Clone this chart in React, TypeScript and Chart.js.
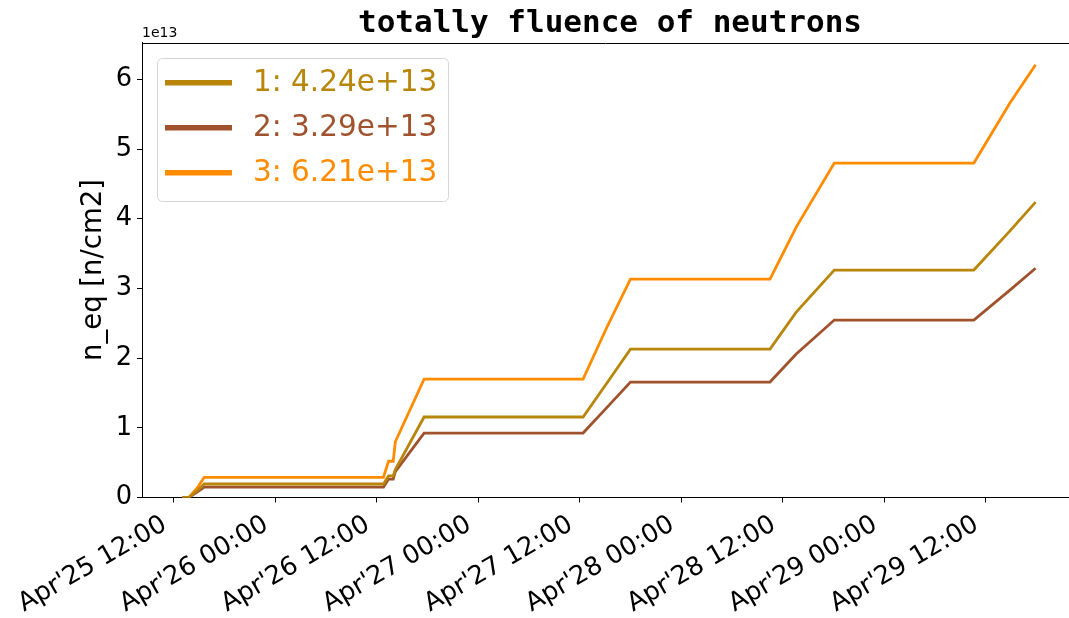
import React, { useEffect, useRef } from "react";
import { Chart, registerables } from "chart.js";

Chart.register(...registerables);

// hours since Apr 25 00:00
const hours = [13.0, 13.8, 14.8, 15.6, 36.8, 37.4, 37.95, 38.2, 41.6, 60.4, 63.2, 66.0, 82.5, 85.6, 90.1, 106.6, 110.9, 113.9];
// fluence in units of 1e13 n/cm2
const series1 = [0, 0, 0.10, 0.194, 0.194, 0.31, 0.31, 0.40, 1.155, 1.155, 1.64, 2.13, 2.13, 2.66, 3.264, 3.264, 3.83, 4.24];
const series2 = [0, 0, 0.08, 0.15, 0.15, 0.265, 0.265, 0.37, 0.925, 0.925, 1.29, 1.657, 1.657, 2.06, 2.547, 2.547, 2.98, 3.29];
const series3 = [0, 0, 0.14, 0.29, 0.29, 0.52, 0.52, 0.80, 1.70, 1.70, 2.44, 3.135, 3.135, 3.88, 4.80, 4.80, 5.67, 6.21];
const seriesNames = ["1", "2", "3"];
const seriesColors = ["#B8860B", "#A0522D", "#FF8C00"];
const xTicks = [12, 24, 36, 48, 60, 72, 84, 96, 108];
const yTicks = [0, 1, 2, 3, 4, 5, 6];
const titleText = "totally fluence of neutrons";
const yLabel = "n_eq [n/cm2]";
const offsetText = "1e13";

function fmtHour(h: number): string {
  const day = 25 + Math.floor(h / 24);
  const hh = Math.round(h % 24);
  return `Apr'${day} ${String(hh).padStart(2, "0")}:00`;
}

const decorPlugin = {
  id: "decor",
  afterDraw(chart: any) {
    const { ctx, chartArea } = chart;
    ctx.save();
    // top spine
    ctx.strokeStyle = "#000";
    ctx.lineWidth = 1;
    ctx.beginPath();
    ctx.moveTo(chartArea.left, Math.round(chartArea.top) + 0.5);
    ctx.lineTo(chartArea.right, Math.round(chartArea.top) + 0.5);
    ctx.stroke();
    // title
    ctx.fillStyle = "#000";
    ctx.font = 'bold 31px "DejaVu Sans Mono"';
    ctx.textAlign = "center";
    ctx.textBaseline = "alphabetic";
    ctx.fillText(titleText, 610, 32);
    // offset text
    ctx.font = '14px "DejaVu Sans"';
    ctx.textAlign = "left";
    ctx.fillText(offsetText, 142, 37);
    // legend
    const lx = 157.5, ly = 58.5, lw = 291, lh = 143, r = 5;
    ctx.beginPath();
    ctx.moveTo(lx + r, ly);
    ctx.lineTo(lx + lw - r, ly);
    ctx.arcTo(lx + lw, ly, lx + lw, ly + r, r);
    ctx.lineTo(lx + lw, ly + lh - r);
    ctx.arcTo(lx + lw, ly + lh, lx + lw - r, ly + lh, r);
    ctx.lineTo(lx + r, ly + lh);
    ctx.arcTo(lx, ly + lh, lx, ly + lh - r, r);
    ctx.lineTo(lx, ly + r);
    ctx.arcTo(lx, ly, lx + r, ly, r);
    ctx.closePath();
    ctx.fillStyle = "rgba(255,255,255,0.8)";
    ctx.fill();
    ctx.strokeStyle = "rgba(204,204,204,0.8)";
    ctx.lineWidth = 1;
    ctx.stroke();
    ctx.font = '29.5px "DejaVu Sans"';
    ctx.textBaseline = "middle";
    chart.data.datasets.forEach((ds: any, i: number) => {
      const cy = 82.7 + i * 45;
      ctx.strokeStyle = ds.borderColor;
      ctx.lineWidth = 5.5;
      ctx.lineCap = "butt";
      ctx.beginPath();
      ctx.moveTo(165, cy);
      ctx.lineTo(232, cy);
      ctx.stroke();
      ctx.fillStyle = ds.borderColor;
      ctx.fillText(ds.label, 253, cy + 1);
    });
    ctx.restore();
  },
};

export default function App() {
  const ref = useRef<HTMLCanvasElement | null>(null);
  useEffect(() => {
    if (!ref.current) return;
    const all = [series1, series2, series3];
    const datasets = all.map((vals, i) => ({
      label: `${seriesNames[i]}: ${(vals[vals.length - 1] * 1e13).toExponential(2)}`,
      data: hours.map((h, j) => ({ x: h, y: vals[j] })),
      borderColor: seriesColors[i],
      backgroundColor: seriesColors[i],
      borderWidth: 2.8,
      pointRadius: 0,
      tension: 0,
      fill: false,
    }));
    const chart = new Chart(ref.current, {
      type: "line",
      data: { datasets },
      plugins: [decorPlugin],
      options: {
        animation: false,
        responsive: false,
        devicePixelRatio: 1,
        layout: { padding: { top: 42.5, left: 0, right: 0, bottom: 0 } },
        plugins: { legend: { display: false }, title: { display: false }, tooltip: { enabled: false } },
        scales: {
          x: {
            type: "linear",
            min: 8.25,
            max: 117.85,
            afterBuildTicks: (scale: any) => {
              scale.ticks = xTicks.map((v) => ({ value: v }));
            },
            afterFit: (scale: any) => {
              scale.height = 120.5;
              scale.paddingLeft = 0;
              scale.paddingRight = 0;
            },
            grid: { display: true, drawOnChartArea: false, drawTicks: true, tickLength: 5, tickColor: "#000", tickWidth: 1 },
            border: { display: true, color: "#000", width: 1 },
            ticks: {
              autoSkip: false,
              minRotation: 30,
              maxRotation: 30,
              padding: 7,
              labelOffset: -9,
              color: "#000",
              font: { family: "DejaVu Sans", size: 25.7 },
              callback: (v: any) => fmtHour(Number(v)),
            },
          },
          y: {
            type: "linear",
            min: 0,
            max: 6.53,
            afterBuildTicks: (scale: any) => {
              scale.ticks = yTicks.map((v) => ({ value: v }));
            },
            afterFit: (scale: any) => {
              scale.width = 142;
            },
            grid: { display: true, drawOnChartArea: false, drawTicks: true, tickLength: 5, tickColor: "#000", tickWidth: 1 },
            border: { display: true, color: "#000", width: 1 },
            ticks: {
              padding: 5,
              color: "#000",
              font: { family: "DejaVu Sans", size: 25.7 },
              callback: (v: any) => String(v),
            },
            title: {
              display: true,
              text: yLabel,
              color: "#000",
              font: { family: "DejaVu Sans", size: 27.5 },
              padding: { top: 77, bottom: 0 },
            },
          },
        },
      },
    } as any);
    return () => chart.destroy();
  }, []);
  return (
    <div style={{ position: "absolute", left: 0, top: 0, width: 1069, height: 618, background: "#fff" }}>
      <canvas ref={ref} width={1069} height={618} style={{ width: 1069, height: 618, display: "block" }} />
    </div>
  );
}
